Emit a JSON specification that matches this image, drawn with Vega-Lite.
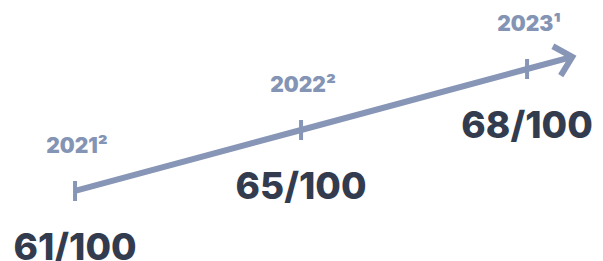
{
  "$schema": "https://vega.github.io/schema/vega-lite/v6.json",
  "width": 603,
  "height": 261,
  "autosize": {"type": "none"},
  "padding": 0,
  "background": "white",
  "config": {"view": {"stroke": null}},
  "data": {"values": [
    {"year": 2021, "label": "2021²", "score": "61/100", "kind": "point"},
    {"year": 2022, "label": "2022²", "score": "65/100", "kind": "point"},
    {"year": 2023, "label": "2023¹", "score": "68/100", "kind": "point"},
    {"year": 2023.2, "label": "", "score": "", "kind": "end"}
  ]},
  "encoding": {
    "x": {"field": "year", "type": "quantitative", "scale": {"domain": [2020.668, 2023.336], "nice": false, "zero": false}, "axis": null},
    "y": {"field": "year", "type": "quantitative", "scale": {"domain": [2019.852, 2024.131], "nice": false, "zero": false}, "axis": null}
  },
  "layer": [
    {"mark": {"type": "line", "stroke": "#8796b6", "strokeWidth": 6}},
    {"transform": [{"filter": "datum.kind === 'point'"}],
     "mark": {"type": "point", "shape": "M0,-1L0,1", "size": 400, "filled": false, "stroke": "#8796b6", "strokeWidth": 4, "opacity": 1}},
    {"transform": [{"filter": "datum.kind === 'end'"}],
     "mark": {"type": "point", "shape": "M-1,-0.95L0,0L-1,0.95", "size": 1024, "angle": -15, "filled": false, "stroke": "#8796b6", "strokeWidth": 6, "opacity": 1, "strokeJoin": "miter"}},
    {"transform": [{"filter": "datum.kind === 'point'"}],
     "mark": {"type": "text", "dy": -38, "dx": 2, "baseline": "alphabetic", "align": "center", "font": "Inter", "fontSize": 21, "fontWeight": 900, "fill": "#8494b5"},
     "encoding": {"text": {"field": "label"}}},
    {"transform": [{"filter": "datum.kind === 'point'"}],
     "mark": {"type": "text", "dy": 69, "baseline": "alphabetic", "align": "center", "font": "Inter", "fontSize": 37, "fontWeight": 800, "fill": "#333c4f"},
     "encoding": {"text": {"field": "score"}}}
  ]
}
